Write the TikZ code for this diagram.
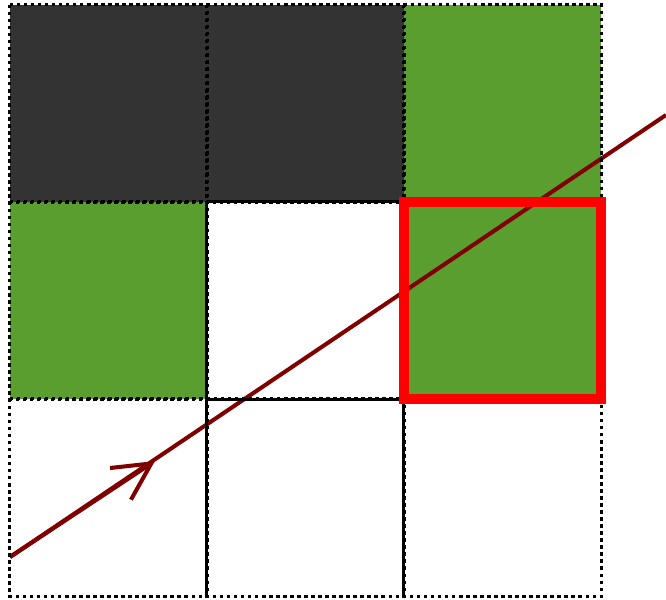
\documentclass[tikz,border=0pt]{standalone}
\usetikzlibrary{arrows.meta}
\definecolor{cellgreen}{HTML}{5A9E2F}
\definecolor{celldark}{HTML}{333333}
\definecolor{raycolor}{HTML}{800000}
\begin{document}
\begin{tikzpicture}[x=0.02cm, y=-0.02cm,
  cell/.style={rectangle, minimum size=3.94cm, inner sep=0pt},
  border/.style={draw=black, line width=2pt, dash pattern=on 2pt off 2pt},
  gridline/.style={draw=black, line width=2pt},
  hit/.style={draw=red, line width=0.2cm},
  ray/.style={draw=raycolor, line width=2.3pt}
]
\useasboundingbox (0,0) rectangle (666,599);

% Cells (top row a, middle row b, bottom row c)
\node[cell, fill=celldark] (a1) at (108.5,103.5) {};
\node[cell, fill=celldark] (a2) at (305.5,103.5) {};
\node[cell, fill=cellgreen] (a3) at (502.5,103.5) {};
\node[cell, fill=cellgreen] (b1) at (108.5,300.5) {};
\node[cell, fill=white] (b2) at (305.5,300.5) {};
\node[cell, fill=cellgreen] (b3) at (502.5,300.5) {};
\node[cell, fill=white] (c1) at (108.5,497.5) {};
\node[cell, fill=white] (c2) at (305.5,497.5) {};
\node[cell, fill=white] (c3) at (502.5,497.5) {};

% Ray
\coordinate (start) at (10,557);
\coordinate (mid) at (155,461);
\coordinate (stop) at (666,115);
\draw[ray] (start) -- (stop);
\draw[ray, -{Straight Barb[length=0.74cm, width=0.76cm]}] (start) -- (mid);

% Cell borders
\foreach \c in {a1,a2,a3,b1,b2,b3,c1,c2,c3}
  \draw[border] (\c.north west) rectangle (\c.south east);
\draw[gridline] (b2.north west) -- (c2.south west);
\draw[gridline] (c3.north west) -- (c3.south west);
\draw[gridline] (b2.north west) -- (b2.north east);
\draw[gridline] (b2.south west) -- (b2.south east);

% Hit cell
\draw[hit] (b3.north west) rectangle (b3.south east);
\end{tikzpicture}
\end{document}
